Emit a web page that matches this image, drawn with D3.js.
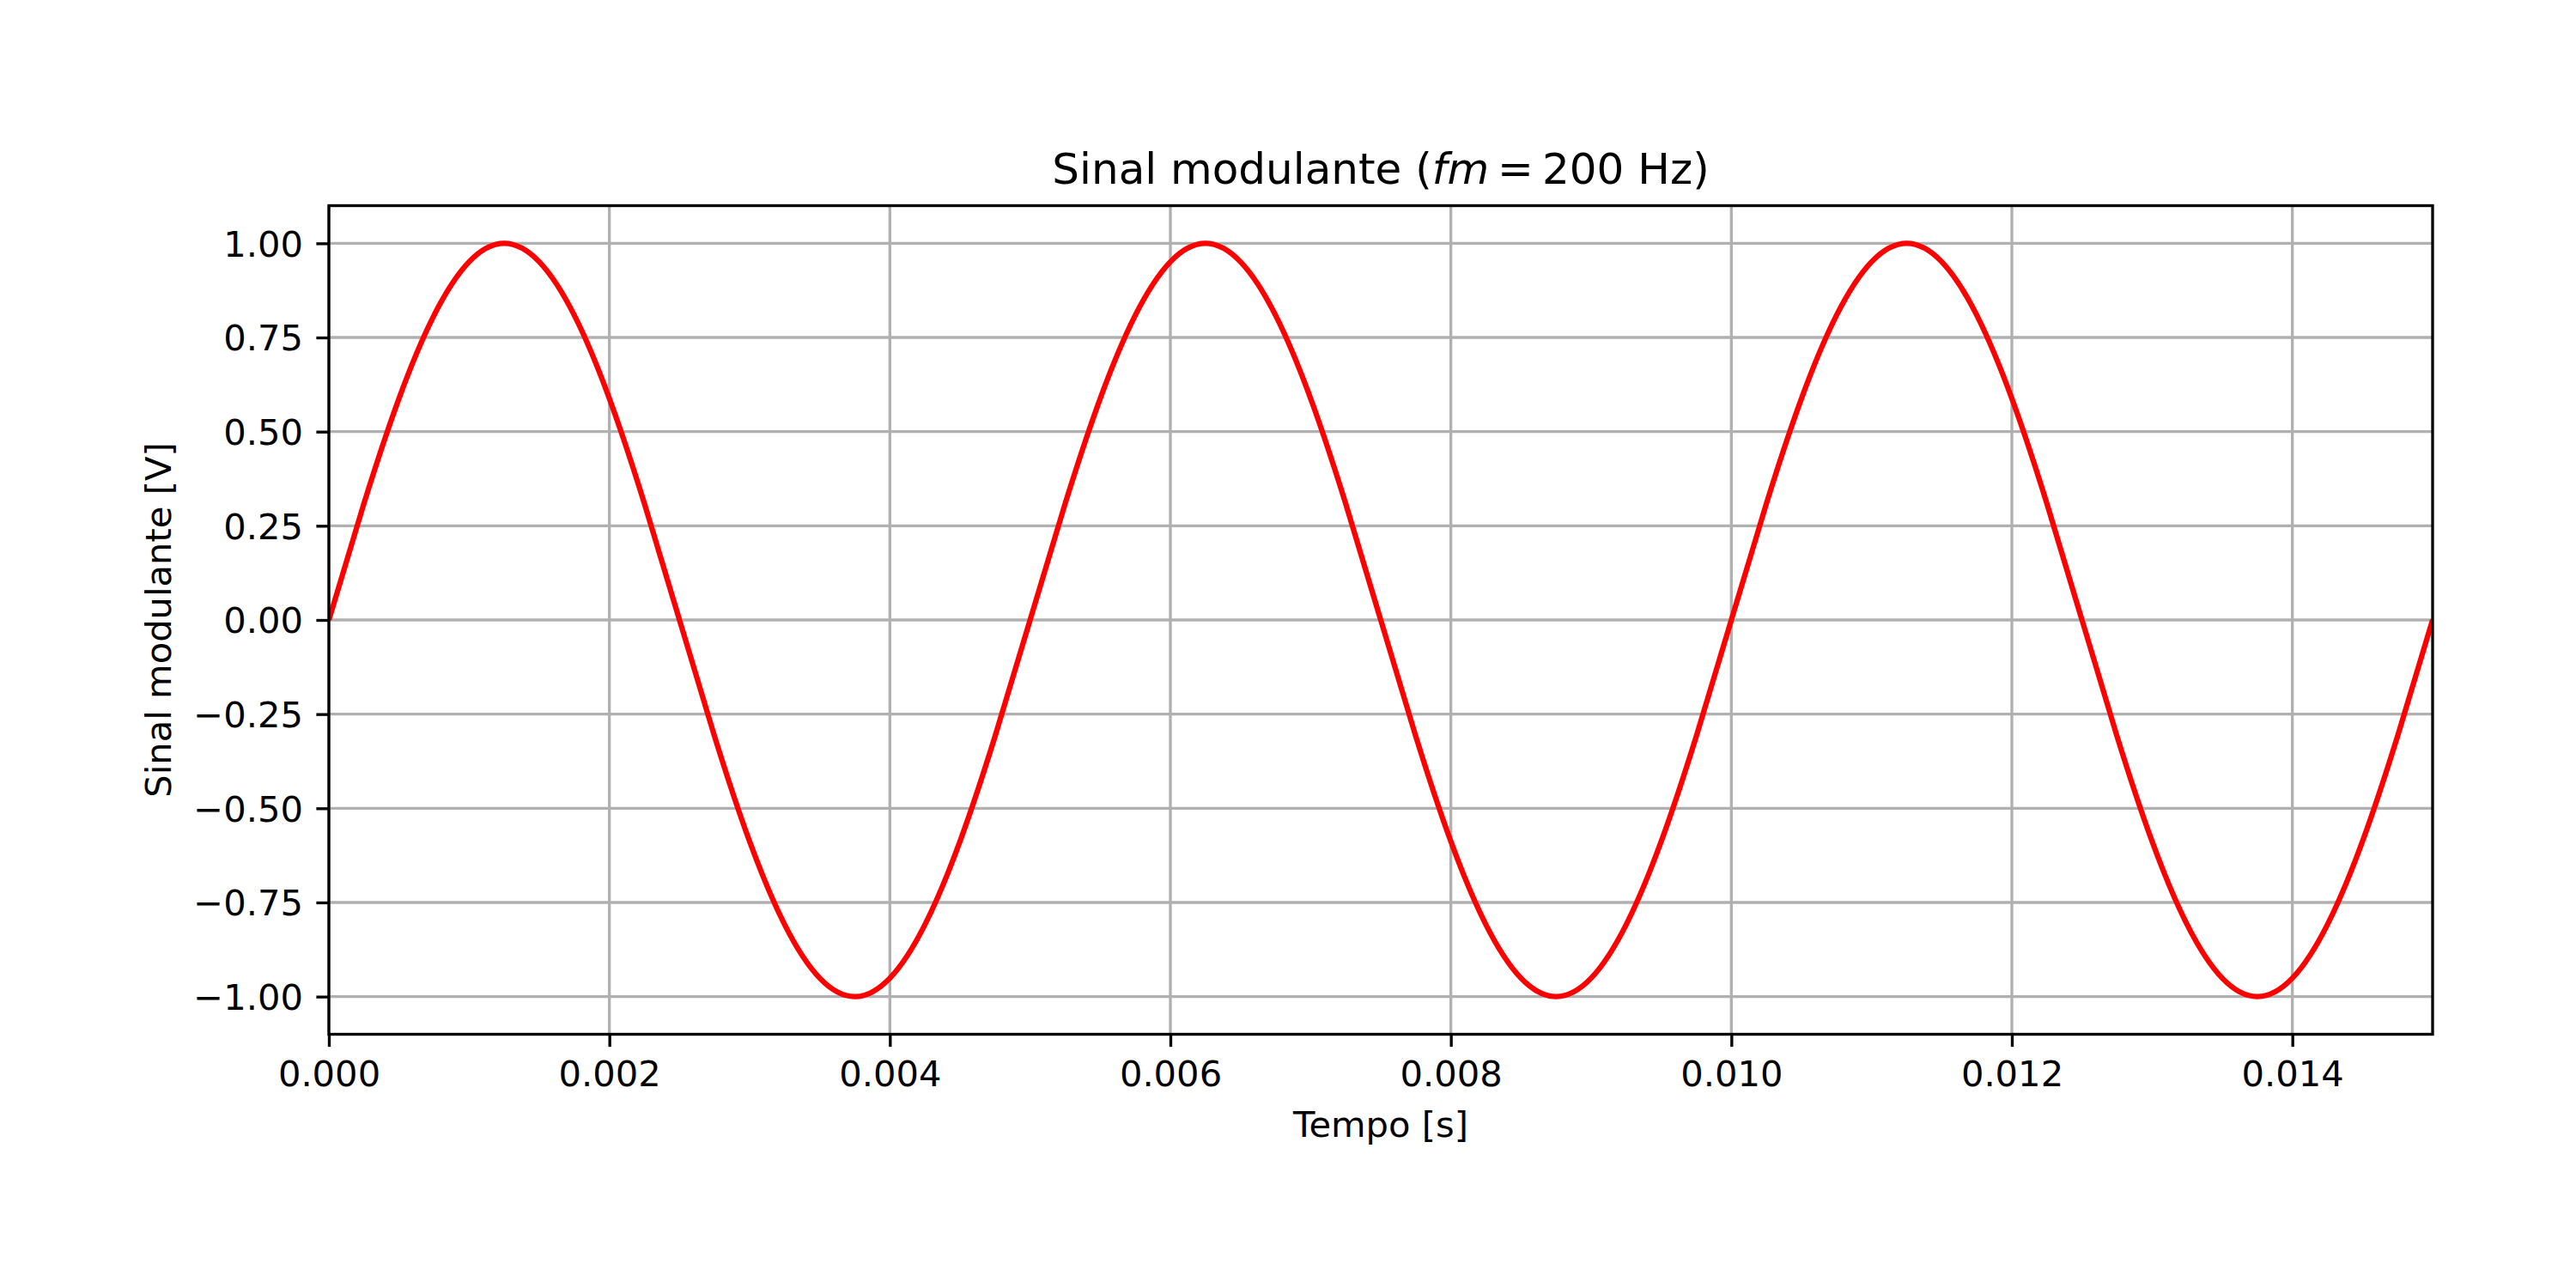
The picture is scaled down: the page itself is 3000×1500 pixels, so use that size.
<!DOCTYPE html>
<html>
<head>
<meta charset="utf-8">
<script src="https://cdn.jsdelivr.net/npm/d3@7"></script>
<style>
  body { margin: 0; background: #fff; }
  text { font-family: "DejaVu Sans", sans-serif; fill: #000; }
</style>
</head>
<body>
<svg id="chart" width="3000" height="1500"></svg>
<script>
// time samples [s], every 0.25 ms
const tempo = [
  0.00000, 0.00025, 0.00050, 0.00075, 0.00100, 0.00125, 0.00150, 0.00175, 0.00200, 0.00225,
  0.00250, 0.00275, 0.00300, 0.00325, 0.00350, 0.00375, 0.00400, 0.00425, 0.00450, 0.00475,
  0.00500, 0.00525, 0.00550, 0.00575, 0.00600, 0.00625, 0.00650, 0.00675, 0.00700, 0.00725,
  0.00750, 0.00775, 0.00800, 0.00825, 0.00850, 0.00875, 0.00900, 0.00925, 0.00950, 0.00975,
  0.01000, 0.01025, 0.01050, 0.01075, 0.01100, 0.01125, 0.01150, 0.01175, 0.01200, 0.01225,
  0.01250, 0.01275, 0.01300, 0.01325, 0.01350, 0.01375, 0.01400, 0.01425, 0.01450, 0.01475,
  0.01500
];

// modulating signal [V]
const sinal = [
  0.000, 0.309, 0.588, 0.809, 0.951, 1.000, 0.951, 0.809, 0.588, 0.309,
  0.000, -0.309, -0.588, -0.809, -0.951, -1.000, -0.951, -0.809, -0.588, -0.309,
  0.000, 0.309, 0.588, 0.809, 0.951, 1.000, 0.951, 0.809, 0.588, 0.309,
  0.000, -0.309, -0.588, -0.809, -0.951, -1.000, -0.951, -0.809, -0.588, -0.309,
  0.000, 0.309, 0.588, 0.809, 0.951, 1.000, 0.951, 0.809, 0.588, 0.309,
  0.000, -0.309, -0.588, -0.809, -0.951, -1.000, -0.951, -0.809, -0.588, -0.309,
  0.000
];

const xTicks = [0, 0.002, 0.004, 0.006, 0.008, 0.010, 0.012, 0.014];
const yTicks = [-1.00, -0.75, -0.50, -0.25, 0.00, 0.25, 0.50, 0.75, 1.00];

let plotLeft = 383, plotRight = 2833, plotTop = 239.5, plotBottom = 1204.5;
let fontSize = 41.67;
let tickLen = 14.6;
let gridColor = "#b0b0b0";

let svg = d3.select("#chart");

let x = d3.scaleLinear().domain([0, 0.015]).range([plotLeft, plotRight]);
let y = d3.scaleLinear().domain([-1.1, 1.1]).range([plotBottom, plotTop]);

const fmtX = d3.format(".3f");
const fmtY = v => d3.format(".2f")(v).replace("-", "\u2212");

// grid
let grid = svg.append("g").attr("class", "grid");
grid.selectAll(".gx")
  .data(xTicks)
  .join("line")
    .attr("class", "gx")
    .attr("x1", d => x(d)).attr("x2", d => x(d))
    .attr("y1", plotTop).attr("y2", plotBottom)
    .attr("stroke", gridColor)
    .attr("stroke-width", 3.33);
grid.selectAll(".gy")
  .data(yTicks)
  .join("line")
    .attr("class", "gy")
    .attr("x1", plotLeft).attr("x2", plotRight)
    .attr("y1", d => y(d)).attr("y2", d => y(d))
    .attr("stroke", gridColor)
    .attr("stroke-width", 3.33);

// signal
svg.append("clipPath").attr("id", "clip")
  .append("rect")
    .attr("x", plotLeft).attr("y", plotTop)
    .attr("width", plotRight - plotLeft).attr("height", plotBottom - plotTop);

let line = d3.line()
  .x((d, i) => x(tempo[i]))
  .y(d => y(d))
  .curve(d3.curveNatural);

svg.append("path")
  .datum(sinal)
  .attr("clip-path", "url(#clip)")
  .attr("d", line)
  .attr("fill", "none")
  .attr("stroke", "#ff0000")
  .attr("stroke-width", 6.25)
  .attr("stroke-linejoin", "round");

// spines
svg.append("rect")
  .attr("x", plotLeft).attr("y", plotTop)
  .attr("width", plotRight - plotLeft).attr("height", plotBottom - plotTop)
  .attr("fill", "none")
  .attr("stroke", "#000")
  .attr("stroke-width", 3.33)
  .attr("stroke-linecap", "square");

// x axis ticks
let xAxis = svg.append("g")
  .attr("transform", `translate(0,${plotBottom})`)
  .call(d3.axisBottom(x).tickValues(xTicks).tickFormat(fmtX).tickSize(tickLen).tickPadding(0));
xAxis.select(".domain").remove();
xAxis.selectAll(".tick line").attr("stroke", "#000").attr("stroke-width", 3.33);
xAxis.selectAll(".tick text")
  .attr("font-size", fontSize)
  .attr("font-family", "DejaVu Sans")
  .attr("fill", "#000")
  .attr("dy", null)
  .attr("y", 60.5);

// y axis ticks
let yAxis = svg.append("g")
  .attr("transform", `translate(${plotLeft},0)`)
  .call(d3.axisLeft(y).tickValues(yTicks).tickFormat(fmtY).tickSize(tickLen).tickPadding(0));
yAxis.select(".domain").remove();
yAxis.selectAll(".tick line").attr("stroke", "#000").attr("stroke-width", 3.33);
yAxis.selectAll(".tick text")
  .attr("font-size", fontSize)
  .attr("font-family", "DejaVu Sans")
  .attr("fill", "#000")
  .attr("dy", null)
  .attr("x", -30)
  .attr("y", 14.7);

// labels
svg.append("text")
  .attr("x", (plotLeft + plotRight) / 2)
  .attr("y", 1324)
  .attr("text-anchor", "middle")
  .attr("font-size", fontSize)
  .text("Tempo [s]");

svg.append("text")
  .attr("transform", `translate(199,${(plotTop + plotBottom) / 2}) rotate(-90)`)
  .attr("text-anchor", "middle")
  .attr("font-size", fontSize)
  .text("Sinal modulante [V]");

// title (mathtext-like tighter spacing around "=")
let title = svg.append("text")
  .attr("x", (plotLeft + plotRight) / 2)
  .attr("y", 214)
  .attr("text-anchor", "middle")
  .attr("font-size", 50);
title.append("tspan").text("Sinal modulante (");
title.append("tspan").attr("font-style", "italic").text("fm");
title.append("tspan").attr("dx", 10).text("=");
title.append("tspan").attr("dx", 10).text("200 Hz)");
</script>
</body>
</html>
